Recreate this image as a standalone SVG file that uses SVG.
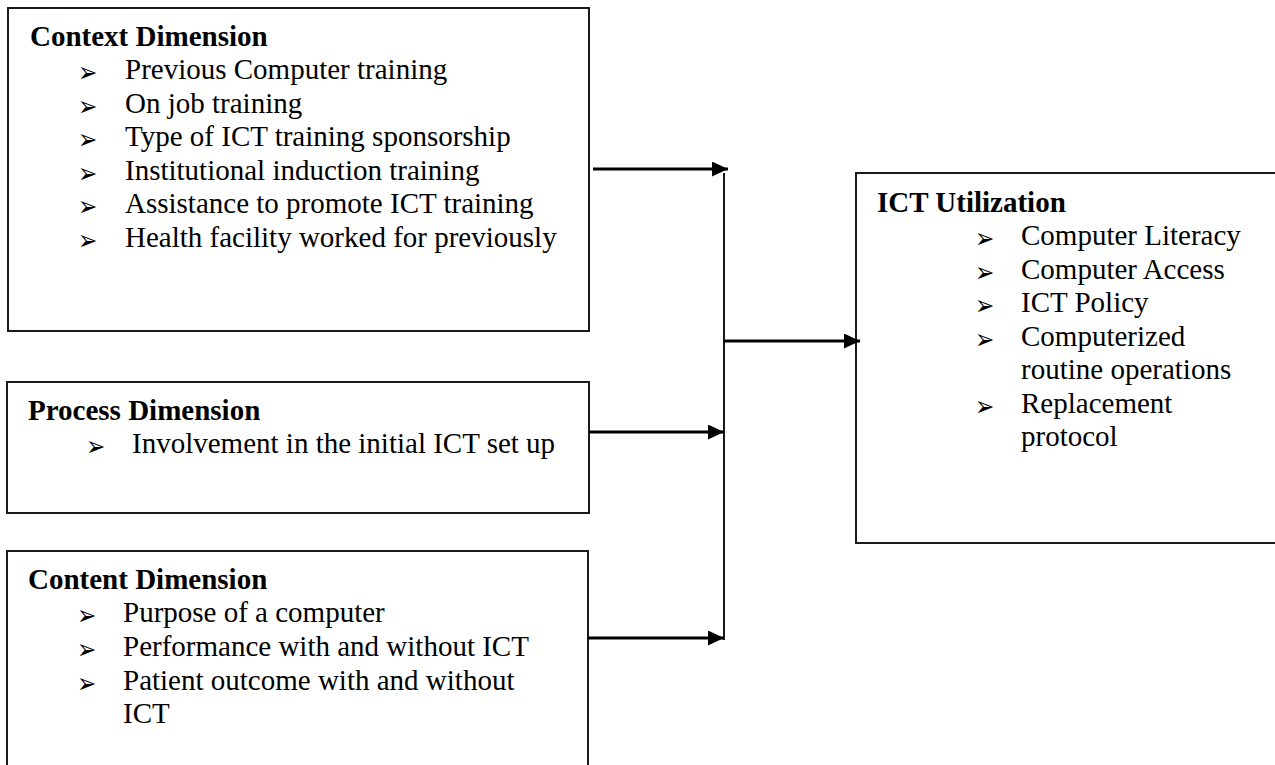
<svg xmlns="http://www.w3.org/2000/svg" width="1275" height="765" viewBox="0 0 1275 765">
  <style>
    .box { fill: #ffffff; stroke: #1a1a1a; stroke-width: 2; }
    .title { font-family: "Liberation Serif", "Times New Roman", serif; font-size: 29px; font-weight: bold; fill: #000; }
    .item { font-family: "Liberation Serif", "Times New Roman", serif; font-size: 29px; fill: #000; }
    .bullet { font-family: "DejaVu Sans", sans-serif; font-size: 21px; fill: #000; }
    .wire { stroke: #000; stroke-width: 3; fill: none; }
    .bus { stroke: #000; stroke-width: 1.8; fill: none; }
  </style>
  <defs>
    <marker id="head" viewBox="0 0 16 15" refX="16" refY="7.5" markerWidth="16" markerHeight="15" markerUnits="userSpaceOnUse" orient="auto">
      <path d="M0,0 L16,7.5 L0,15 Z" fill="#000"/>
    </marker>
  </defs>
  <rect width="1275" height="765" fill="#ffffff"/>

  <!-- Context dimension -->
  <g id="context">
    <rect class="box" x="8" y="8" width="581" height="323"/>
    <text class="title" x="30" y="46">Context Dimension</text>
    <text class="bullet" transform="translate(78 82) scale(1.1 1.35)">➢</text>
    <text class="item" x="125" y="79">Previous Computer training</text>
    <text class="bullet" transform="translate(78 115.5) scale(1.1 1.35)">➢</text>
    <text class="item" x="125" y="112.5">On job training</text>
    <text class="bullet" transform="translate(78 149) scale(1.1 1.35)">➢</text>
    <text class="item" x="125" y="146">Type of ICT training sponsorship</text>
    <text class="bullet" transform="translate(78 182.5) scale(1.1 1.35)">➢</text>
    <text class="item" x="125" y="179.5">Institutional induction training</text>
    <text class="bullet" transform="translate(78 216) scale(1.1 1.35)">➢</text>
    <text class="item" x="125" y="213">Assistance to promote ICT training</text>
    <text class="bullet" transform="translate(78 249.5) scale(1.1 1.35)">➢</text>
    <text class="item" x="125" y="246.5">Health facility worked for previously</text>
  </g>

  <!-- Process dimension -->
  <g id="process">
    <rect class="box" x="7" y="382" width="582" height="131"/>
    <text class="title" x="28" y="420">Process Dimension</text>
    <text class="bullet" transform="translate(86 456) scale(1.1 1.35)">➢</text>
    <text class="item" x="132" y="453">Involvement in the initial ICT set up</text>
  </g>

  <!-- Content dimension -->
  <g id="content">
    <rect class="box" x="7" y="551" width="581" height="230"/>
    <text class="title" x="28" y="589">Content Dimension</text>
    <text class="bullet" transform="translate(77 625) scale(1.1 1.35)">➢</text>
    <text class="item" x="123" y="622">Purpose of a computer</text>
    <text class="bullet" transform="translate(77 659) scale(1.1 1.35)">➢</text>
    <text class="item" x="123" y="656">Performance with and without ICT</text>
    <text class="bullet" transform="translate(77 693) scale(1.1 1.35)">➢</text>
    <text class="item" x="123" y="690">Patient outcome with and without</text>
    <text class="item" x="123" y="723">ICT</text>
  </g>

  <!-- ICT utilization -->
  <g id="ict-utilization">
    <rect class="box" x="856" y="173" width="440" height="370"/>
    <text class="title" x="877" y="212">ICT Utilization</text>
    <text class="bullet" transform="translate(975 248) scale(1.1 1.35)">➢</text>
    <text class="item" x="1021" y="245">Computer Literacy</text>
    <text class="bullet" transform="translate(975 281.5) scale(1.1 1.35)">➢</text>
    <text class="item" x="1021" y="278.5">Computer Access</text>
    <text class="bullet" transform="translate(975 315) scale(1.1 1.35)">➢</text>
    <text class="item" x="1021" y="312">ICT Policy</text>
    <text class="bullet" transform="translate(975 348.5) scale(1.1 1.35)">➢</text>
    <text class="item" x="1021" y="345.5">Computerized</text>
    <text class="item" x="1021" y="379">routine operations</text>
    <text class="bullet" transform="translate(975 415.5) scale(1.1 1.35)">➢</text>
    <text class="item" x="1021" y="412.5">Replacement</text>
    <text class="item" x="1021" y="446">protocol</text>
  </g>

  <!-- Connectors -->
  <g id="connectors">
    <line class="bus" x1="724" y1="173" x2="724" y2="640"/>
    <line class="wire" x1="593" y1="169" x2="728" y2="169" marker-end="url(#head)"/>
    <line class="wire" x1="589" y1="432" x2="724" y2="432" marker-end="url(#head)"/>
    <line class="wire" x1="588" y1="638" x2="724" y2="638" marker-end="url(#head)"/>
    <line class="wire" x1="724" y1="341" x2="860" y2="341" marker-end="url(#head)"/>
  </g>
</svg>
